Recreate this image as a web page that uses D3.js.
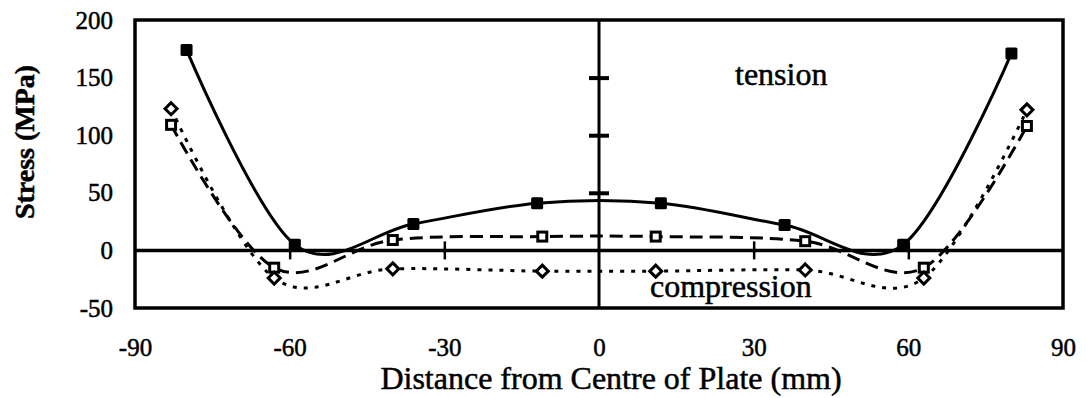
<!DOCTYPE html>
<html>
<head>
<meta charset="utf-8">
<script src="https://d3js.org/d3.v7.min.js"></script>
<style>
    body { margin: 0; background: #fff; }
    svg text { font-family: "Liberation Serif", "Times New Roman", serif; fill: #000; stroke: #000; stroke-width: 0.5px; }
</style>
</head>
<body>
<svg id="drawing_region" font-family="Liberation Serif"></svg>
<script>
// distance from centre of plate (mm)
const x_solid = [-80, -59, -36, -12, 12, 36, 59, 80];
const y_solid = [174, 5, 23, 41, 41, 22, 5, 171];

const x_open = [-83, -63, -40, -11, 11, 40, 63, 83];
const y_dashed = [109, -15, 9, 12, 12, 8, -15, 108];
const y_dotted = [123, -24, -16, -18, -18, -17, -24, 122];

const x_ticks = [-90, -60, -30, 0, 30, 60, 90];
const y_ticks = [-50, 0, 50, 100, 150, 200];

let config = {
    parent: '#drawing_region',
    width: 1086,
    height: 398,
    margin: {top:20, right:23, bottom:90, left:135}
};

class StressChart {

    constructor( config ) {
        this.config = config;
        this.init();
    }

    init() {
        let self = this;

        self.svg = d3.select( self.config.parent )
            .attr('width', self.config.width)
            .attr('height', self.config.height);

        self.inner_width = self.config.width - self.config.margin.left - self.config.margin.right;
        self.inner_height = self.config.height - self.config.margin.top - self.config.margin.bottom;

        self.chart = self.svg.append('g')
            .attr('transform', `translate(${self.config.margin.left}, ${self.config.margin.top})`);

        self.xscale = d3.scaleLinear()
            .domain( [-90, 90] )
            .range( [0, self.inner_width] );

        self.yscale = d3.scaleLinear()
            .domain( [-50, 200] )
            .range( [self.inner_height, 0] );
    }

    render() {
        let self = this;
        const x = self.xscale, y = self.yscale;

        // tick labels (plain hyphen for negatives)
        const xaxis = d3.axisBottom( x ).tickValues( x_ticks ).tickSize(0).tickPadding(30)
            .tickFormat( d => String(d) );
        const yaxis = d3.axisLeft( y ).tickValues( y_ticks ).tickSize(0).tickPadding(22)
            .tickFormat( d => String(d) );

        self.chart.append('g')
            .attr('transform', `translate(0, ${self.inner_height})`)
            .call( xaxis )
            .attr('font-family', 'Liberation Serif')
            .attr('font-size', 25)
            .call( g => g.select('.domain').remove() );

        self.chart.append('g')
            .call( yaxis )
            .attr('font-family', 'Liberation Serif')
            .attr('font-size', 25)
            .call( g => g.select('.domain').remove() );

        // crossing ticks on the zero line and the centre line
        const xcross = d3.axisBottom( x ).tickValues( [-60, -30, 30, 60] ).tickSize(18);
        self.chart.append('g')
            .attr('transform', `translate(0, ${y(0) - 9})`)
            .call( xcross )
            .call( g => g.select('.domain').remove() )
            .call( g => g.selectAll('text').remove() )
            .selectAll('line').attr('stroke-width', 2.5);

        const ycross = d3.axisLeft( y ).tickValues( [50, 100, 150] ).tickSize(20);
        self.chart.append('g')
            .attr('transform', `translate(${x(0) + 10}, 0)`)
            .call( ycross )
            .call( g => g.select('.domain').remove() )
            .call( g => g.selectAll('text').remove() )
            .selectAll('line').attr('stroke-width', 4);

        // frame, zero line, centre line
        self.chart.append('rect')
            .attr('x', 0).attr('y', 0)
            .attr('width', self.inner_width)
            .attr('height', self.inner_height)
            .attr('fill', 'none')
            .attr('stroke', '#000')
            .attr('stroke-width', 3.5);

        self.chart.append('line')
            .attr('x1', 0).attr('x2', self.inner_width)
            .attr('y1', y(0)).attr('y2', y(0))
            .attr('stroke', '#000').attr('stroke-width', 3.5);

        self.chart.append('line')
            .attr('x1', x(0)).attr('x2', x(0))
            .attr('y1', 0).attr('y2', self.inner_height)
            .attr('stroke', '#000').attr('stroke-width', 3);

        // series
        const series = [
            { xs: x_solid, ys: y_solid, dash: null, marker: 'filled' },
            { xs: x_open, ys: y_dashed, dash: '13,7', marker: 'square' },
            { xs: x_open, ys: y_dotted, dash: '4,7', marker: 'diamond' }
        ];

        const line = d3.line()
            .x( d => x( d[0] ) )
            .y( d => y( d[1] ) )
            .curve( d3.curveCardinal );

        series.forEach( s => {
            const pts = s.xs.map( (v, i) => [v, s.ys[i]] );

            self.chart.append('path')
                .datum( pts )
                .attr('d', line)
                .attr('fill', 'none')
                .attr('stroke', '#000')
                .attr('stroke-width', 3)
                .attr('stroke-dasharray', s.dash);

            const g = self.chart.append('g');
            if ( s.marker == 'filled' ) {
                g.selectAll('rect').data( pts ).join('rect')
                    .attr('x', d => x( d[0] ) - 6)
                    .attr('y', d => y( d[1] ) - 6)
                    .attr('width', 12).attr('height', 12)
                    .attr('rx', 1.5)
                    .attr('fill', '#000');
            } else if ( s.marker == 'square' ) {
                g.selectAll('rect').data( pts ).join('rect')
                    .attr('x', d => x( d[0] ) - 4.5)
                    .attr('y', d => y( d[1] ) - 4.5)
                    .attr('width', 9).attr('height', 9)
                    .attr('fill', '#fff')
                    .attr('stroke', '#000')
                    .attr('stroke-width', 3);
            } else {
                g.selectAll('path').data( pts ).join('path')
                    .attr('d', 'M0,-6L6,0L0,6L-6,0Z')
                    .attr('transform', d => `translate(${x( d[0] )}, ${y( d[1] )})`)
                    .attr('fill', '#fff')
                    .attr('stroke', '#000')
                    .attr('stroke-width', 3);
            }
        });

        // annotations
        self.chart.append('text')
            .attr('x', 735 - self.config.margin.left)
            .attr('y', 85 - self.config.margin.top)
            .attr('font-size', 32)
            .text('tension');

        self.chart.append('text')
            .attr('x', 650 - self.config.margin.left)
            .attr('y', 297 - self.config.margin.top)
            .attr('font-size', 32)
            .text('compression');

        // axis titles
        self.svg.append('text')
            .attr('x', self.config.margin.left + self.inner_width / 2 + 12)
            .attr('y', 389)
            .attr('text-anchor', 'middle')
            .attr('font-size', 32)
            .text('Distance from Centre of Plate (mm)');

        self.svg.append('text')
            .attr('transform', `translate(34, 142) rotate(-90)`)
            .attr('text-anchor', 'middle')
            .attr('font-size', 28)
            .attr('font-weight', 'bold')
            .text('Stress (MPa)');
    }
}

const chart = new StressChart( config );
chart.render();
</script>
</body>
</html>
